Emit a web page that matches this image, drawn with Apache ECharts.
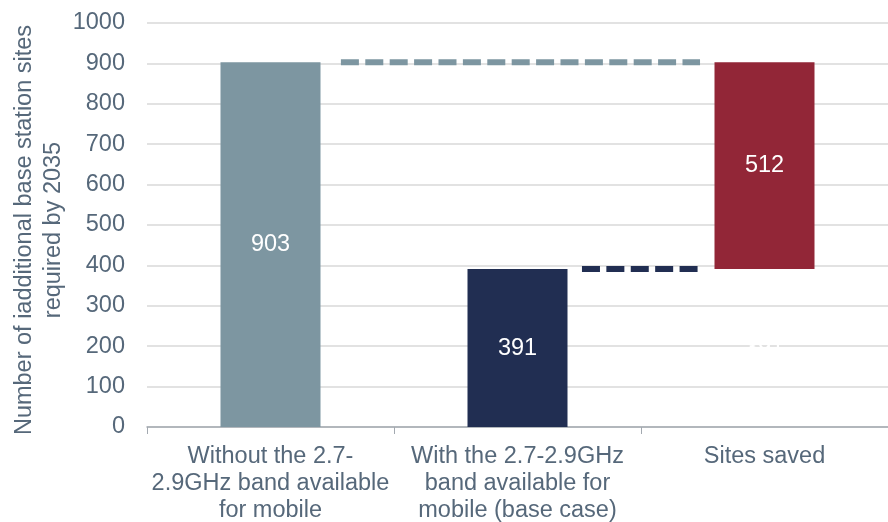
<!DOCTYPE html>
<html>
<head>
<meta charset="utf-8">
<script src="https://cdn.jsdelivr.net/npm/echarts@6/dist/echarts.min.js"></script>
<style>
  html, body { margin: 0; padding: 0; background: #ffffff; }
  #chart { width: 888px; height: 522px; }
</style>
</head>
<body>
<div id="chart"></div>
<script>
// Waterfall: sites needed with/without the 2.7-2.9GHz band, and sites saved
const categories = [
  'Without the 2.7-\n2.9GHz band available\nfor mobile',
  'With the 2.7-2.9GHz\nband available for\nmobile (base case)',
  'Sites saved'
];
const withoutBand = 903;
const withBand = 391;
const sitesSaved = 512;
const yTicks = [0, 100, 200, 300, 400, 500, 600, 700, 800, 900, 1000];

// invisible base under the floating "saved" bar
const baseValues = [0, 0, withBand];
const barValues = [withoutBand, withBand, sitesSaved];
const barColors = ['#7d96a1', '#212e52', '#922637'];

// dashed connectors: [fromCategory, value, toCategory]
const connectors = [
  [0, withoutBand, 2],
  [1, withBand, 2]
];
// connector look: colour and where it starts/ends inside the category bands
const connectorStyles = [
  { color: '#7d96a1', startFrac: 0.285, endFrac: 0.261 },
  { color: '#212e52', startFrac: 0.261, endFrac: 0.261 }
];

const textColor = '#56687a';
const font = 'Liberation Sans, Arial, sans-serif';
const fontSize = 23.5;

const chart = echarts.init(document.getElementById('chart'), null, { renderer: 'canvas' });

chart.setOption({
  animation: false,
  backgroundColor: '#ffffff',
  grid: { left: 147, right: 0, top: 23, bottom: 95, containLabel: false, outerBoundsMode: 'none' },
  xAxis: {
    type: 'category',
    data: categories,
    axisLine: { show: true, lineStyle: { color: '#a3a9b0', width: 1.5 } },
    axisTick: { show: true, alignWithLabel: false, length: 7, lineStyle: { color: '#a3a9b0' } },
    axisLabel: {
      color: textColor, fontFamily: font,
      fontSize: fontSize, lineHeight: 27, margin: 16, interval: 0
    }
  },
  yAxis: {
    type: 'value',
    min: yTicks[0],
    max: yTicks[yTicks.length - 1],
    interval: 100,
    name: 'Number of iadditional base station sites\nrequired by 2035',
    nameLocation: 'middle',
    nameRotate: 90,
    nameGap: 79,
    nameMoveOverlap: false,
    nameTextStyle: {
      color: textColor, fontFamily: font, fontSize: fontSize, lineHeight: 29,
      padding: [0, 10, 0, 0]
    },
    axisLine: { show: false },
    axisTick: { show: false },
    splitLine: { show: true, lineStyle: { color: '#d9d9d9', width: 1.5 } },
    axisLabel: {
      color: textColor, fontFamily: font, fontSize: fontSize, margin: 22,
      formatter: v => String(v)
    }
  },
  series: [
    {
      type: 'bar',
      stack: 'total',
      barWidth: 100,
      data: baseValues,
      itemStyle: { color: 'transparent' },
      label: {
        show: true, position: 'inside',
        color: '#ffffff', fontFamily: font, fontSize: fontSize,
        formatter: p => (p.value > 0 ? String(p.value) : '')
      },
      silent: true
    },
    {
      type: 'bar',
      stack: 'total',
      barWidth: 100,
      data: barValues.map((v, i) => ({ value: v, itemStyle: { color: barColors[i] } })),
      label: {
        show: true, position: 'inside',
        color: '#ffffff', fontFamily: font, fontSize: fontSize
      }
    },
    {
      type: 'custom',
      coordinateSystem: 'cartesian2d',
      data: connectors,
      renderItem: function (params, api) {
        const from = api.value(0), v = api.value(1), to = api.value(2);
        const p1 = api.coord([from, v]);
        const p2 = api.coord([to, v]);
        const band = api.size([1, 0])[0];
        const st = connectorStyles[params.dataIndex];
        return {
          type: 'line',
          shape: {
            x1: p1[0] + band * st.startFrac, y1: p1[1],
            x2: p2[0] - band * st.endFrac, y2: p2[1]
          },
          style: { stroke: st.color, lineWidth: 6, lineDash: [18, 6.4] }
        };
      },
      z: 5
    }
  ]
});
</script>
</body>
</html>
